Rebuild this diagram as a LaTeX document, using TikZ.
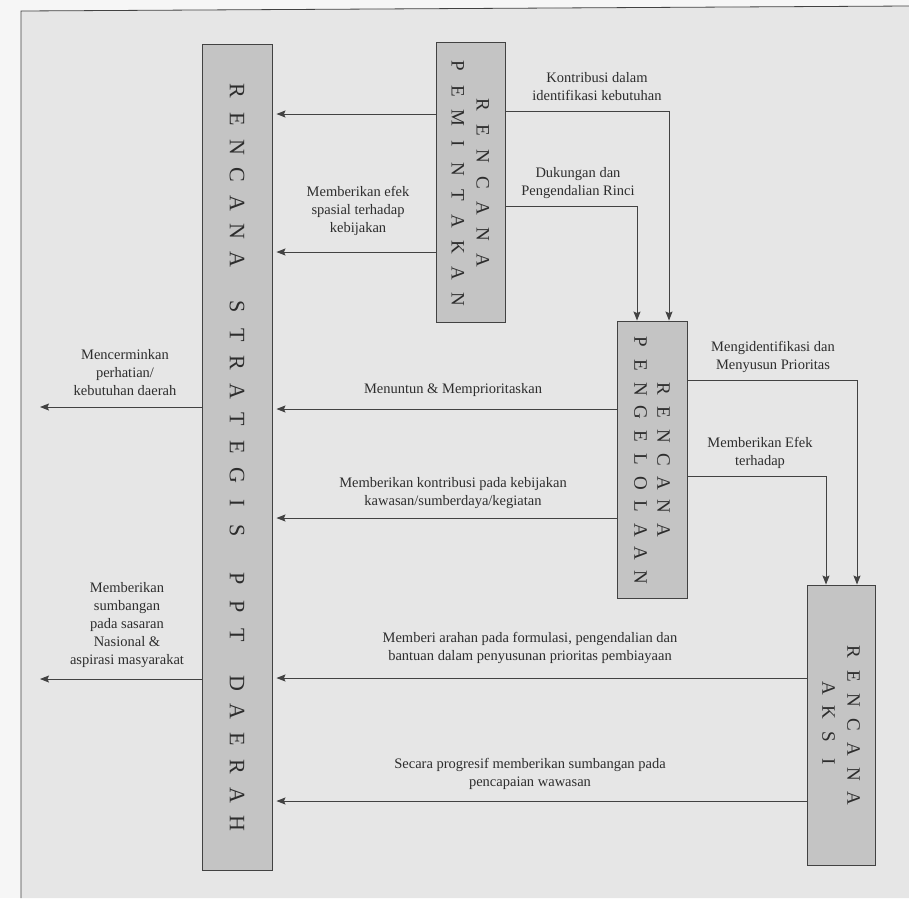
\documentclass[tikz,border=0pt]{standalone}
\usepackage{fontspec}
\setmainfont{Liberation Serif}
\usetikzlibrary{arrows.meta}

\definecolor{pagebg}{RGB}{246,246,246}
\definecolor{scanbg}{RGB}{230,230,230}
\definecolor{boxgray}{RGB}{196,196,196}
\definecolor{inkgray}{RGB}{66,66,66}
\definecolor{textgray}{RGB}{45,45,45}

% letter pitch for the spaced-out box titles
\newlength{\boxpitch}
\setlength{\boxpitch}{25pt}
\def\spell#1{\spellnext#1\relax}
\def\spellnext#1{\ifx#1\relax\else\makebox[\boxpitch]{#1}\expandafter\spellnext\fi}

\tikzset{
    planbox/.style={draw=inkgray, line width=0.9pt, fill=boxgray, inner sep=0pt},
    plantext/.style={rotate=-90, align=center, text=textgray, inner sep=0pt,
        font=\fontsize{19}{24}\selectfont},
    note/.style={align=center, text=textgray, inner sep=0pt,
        font=\fontsize{14.5}{18}\selectfont},
    flow/.style={draw=inkgray, line width=1pt,
        -{Stealth[length=9pt,width=7pt,inset=1.5pt]}},
    tostrat/.style={flow, shorten >=4pt},
}

\begin{document}
\begin{tikzpicture}[x=1pt, y=-1pt]
    \useasboundingbox (0,0) rectangle (909,898);
    % - Scanned page and frame
    \fill[pagebg] (0,0) rectangle (909,898);
    \fill[scanbg] (21,11) -- (909,6) -- (909,898) -- (21,898) -- cycle;
    \draw[inkgray, line width=0.8pt] (21,898) -- (21,11) -- (909,6);
    % - Boxes
    \node[planbox, minimum width=70pt, minimum height=826pt] (strategis) at (237,457) {};
    \node[planbox, minimum width=69pt, minimum height=280pt] (peminta) at (470.5,182.5) {};
    \node[planbox, minimum width=70pt, minimum height=277pt] (pengelolaan) at (652,459.5) {};
    \node[planbox, minimum width=68pt, minimum height=280pt] (aksi) at (841,725) {};
    % - Box titles
    \node[plantext, font=\fontsize{22}{24}\selectfont\setlength{\boxpitch}{28pt}] (strategis-text) at (strategis.center)
        {\spell{RENCANA}\hspace{20pt}\spell{STRATEGIS}\hspace{20pt}\spell{PPT}\hspace{20pt}\spell{DAERAH}};
    \node[plantext, font=\fontsize{19}{25}\selectfont\setlength{\boxpitch}{26pt}] (peminta-text) at (peminta.center)
        {\spell{RENCANA}\\\spell{PEMINTAKAN}};
    \node[plantext, font=\fontsize{19}{23}\selectfont\setlength{\boxpitch}{23.5pt}] (pengelolaan-text) at (pengelolaan.center)
        {\spell{RENCANA}\\\spell{PENGELOLAAN}};
    \node[plantext, font=\fontsize{19}{25}\selectfont\setlength{\boxpitch}{24.5pt}] (aksi-text) at (aksi.center)
        {\spell{RENCANA}\\\spell{AKSI}};
    % - Free ends on the left
    \coordinate (out-daerah) at (40,407);
    \coordinate (out-nasional) at (40,679);
    % - Connectors
    \draw[tostrat] (peminta.west |- 0,114) -- (strategis.east |- 0,114);
    \draw[tostrat] (peminta.west |- 0,252) -- (strategis.east |- 0,252);
    \draw[flow] (peminta.east |- 0,111) -| (pengelolaan.north -| 669,0);
    \draw[flow] (peminta.east |- 0,206) -| (pengelolaan.north -| 637,0);
    \draw[tostrat] (pengelolaan.west |- 0,409) -- (strategis.east |- 0,409);
    \draw[tostrat] (pengelolaan.west |- 0,518) -- (strategis.east |- 0,518);
    \draw[flow] (pengelolaan.east |- 0,380) -| (aksi.north -| 857,0);
    \draw[flow] (pengelolaan.east |- 0,476) -| (aksi.north -| 826,0);
    \draw[tostrat] (aksi.west |- 0,678) -- (strategis.east |- 0,678);
    \draw[tostrat] (aksi.west |- 0,801) -- (strategis.east |- 0,801);
    \draw[flow] (strategis.west |- out-daerah) -- (out-daerah);
    \draw[flow] (strategis.west |- out-nasional) -- (out-nasional);
    % - Connector labels
    \node[note] (kontribusi) at (597,87) {Kontribusi dalam\\identifikasi kebutuhan};
    \node[note] (dukungan) at (578,183) {Dukungan dan\\Pengendalian Rinci};
    \node[note] (efek-spasial) at (358,211) {Memberikan efek\\spasial terhadap\\kebijakan};
    \node[note] (mencerminkan) at (125,373) {Mencerminkan\\perhatian/\\kebutuhan daerah};
    \node[note] (menuntun) at (453,390) {Menuntun \& Memprioritaskan};
    \node[note] (kebijakan) at (453,493) {Memberikan kontribusi pada kebijakan\\kawasan/sumberdaya/kegiatan};
    \node[note] (prioritas) at (773,357) {Mengidentifikasi dan\\Menyusun Prioritas};
    \node[note] (efek) at (760,453) {Memberikan Efek\\terhadap};
    \node[note] (sumbangan) at (127,625) {Memberikan\\sumbangan\\pada sasaran\\Nasional \&\\aspirasi masyarakat};
    \node[note] (arahan) at (530,648) {Memberi arahan pada formulasi, pengendalian dan\\bantuan dalam penyusunan prioritas pembiayaan};
    \node[note] (progresif) at (530,774) {Secara progresif memberikan sumbangan pada\\pencapaian wawasan};
\end{tikzpicture}
\end{document}
